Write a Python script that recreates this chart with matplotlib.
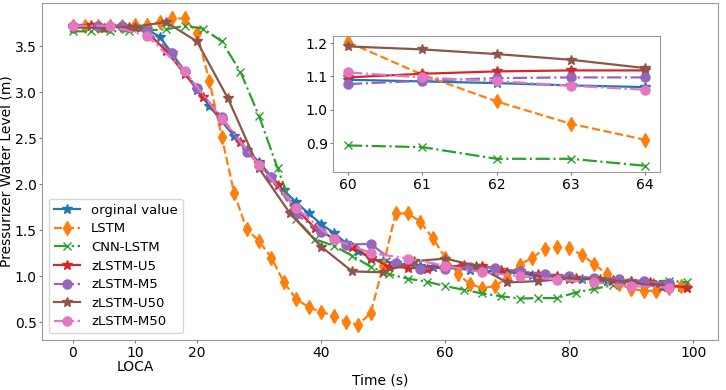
import matplotlib
matplotlib.use("Agg")
import matplotlib.pyplot as plt

# --- data ---
t_orig = list(range(0, 100, 2))
orig = [3.72, 3.72, 3.72, 3.72, 3.72, 3.71, 3.68, 3.60, 3.42, 3.22,
        3.02, 2.85, 2.68, 2.52, 2.37, 2.24, 2.08, 1.93, 1.80, 1.68,
        1.565, 1.47, 1.36, 1.27, 1.19, 1.16, 1.14, 1.12, 1.107, 1.095,
        1.09, 1.08, 1.068, 1.06, 1.05, 1.04, 1.03, 1.01, 1.0, 0.99,
        0.98, 0.97, 0.96, 0.95, 0.94, 0.93, 0.91, 0.90, 0.89, 0.88]

t_lstm = list(range(0, 100, 2))
lstm = [3.72, 3.72, 3.72, 3.72, 3.72, 3.73, 3.73, 3.76, 3.80, 3.80,
        3.64, 3.12, 2.51, 1.90, 1.51, 1.38, 1.20, 0.93, 0.75, 0.66,
        0.61, 0.57, 0.50, 0.47, 0.60, 1.11, 1.68, 1.68, 1.59, 1.41,
        1.20, 1.025, 0.91, 0.87, 0.89, 0.98, 1.12, 1.20, 1.29, 1.32,
        1.30, 1.23, 1.13, 1.02, 0.91, 0.86, 0.84, 0.84, 0.87, 0.89]

t_cnn = list(range(0, 100, 3))
cnn = [3.66, 3.66, 3.66, 3.66, 3.67, 3.68, 3.72, 3.69, 3.55, 3.22,
       2.74, 2.17, 1.62, 1.40, 1.33, 1.22, 1.10, 1.02, 0.97, 0.94,
       0.89, 0.85, 0.81, 0.78, 0.755, 0.76, 0.76, 0.82, 0.86, 0.90,
       0.92, 0.94, 0.95, 0.93]

t_u5 = list(range(0, 100, 3))
u5 = [3.72, 3.73, 3.72, 3.71, 3.65, 3.45, 3.20, 2.95, 2.70, 2.46,
      2.22, 1.99, 1.73, 1.52, 1.41, 1.32, 1.20, 1.10, 1.09, 1.08,
      1.097, 1.117, 1.11, 1.07, 1.05, 1.02, 1.0, 0.98, 0.97, 0.96,
      0.945, 0.93, 0.90, 0.875]

t_m5 = list(range(0, 100, 4))
m5 = [3.72, 3.72, 3.72, 3.66, 3.42, 3.04, 2.73, 2.35, 2.08, 1.67,
      1.48, 1.34, 1.35, 1.14, 1.08, 1.08, 1.10, 1.09, 1.05, 1.02,
      1.0, 0.98, 0.97, 0.945, 0.92]

t_u50 = list(range(0, 100, 5))
u50 = [3.70, 3.70, 3.71, 3.76, 3.55, 2.93, 2.17, 1.68, 1.32, 1.05,
       1.04, 1.16, 1.19, 1.11, 0.93, 0.945, 0.97, 0.97, 0.93, 0.88]

t_m50 = list(range(0, 100, 6))
m50 = [3.72, 3.72, 3.61, 3.23, 2.71, 2.21, 1.74, 1.40, 1.25, 1.19,
       1.11, 1.04, 1.0, 0.96, 0.93, 0.89, 0.875]

# zoomed window 60-64 s
t_zoom = [60, 61, 62, 63, 64]
z_orig = [1.09, 1.085, 1.08, 1.073, 1.068]
z_lstm = [1.203, 1.105, 1.025, 0.958, 0.91]
z_cnn = [0.893, 0.888, 0.853, 0.853, 0.832]
z_u5 = [1.097, 1.108, 1.115, 1.118, 1.118]
z_m5 = [1.077, 1.087, 1.095, 1.097, 1.097]
z_u50 = [1.19, 1.181, 1.167, 1.15, 1.125]
z_m50 = [1.112, 1.097, 1.086, 1.072, 1.06]

labels = ["orginal value", "LSTM", "CNN-LSTM", "zLSTM-U5",
          "zLSTM-M5", "zLSTM-U50", "zLSTM-M50"]
styles = [dict(color="tab:blue", ls="-", marker="*", ms=7),
          dict(color="tab:orange", ls="--", marker="d", ms=7),
          dict(color="tab:green", ls="-.", marker="x", ms=6, mew=1.0),
          dict(color="tab:red", ls="-", marker="*", ms=7),
          dict(color="tab:purple", ls="-.", marker="o", ms=6.5),
          dict(color="tab:brown", ls="-", marker="*", ms=7),
          dict(color="tab:pink", ls="-.", marker="o", ms=6.5)]

main_series = [(t_orig, orig), (t_lstm, lstm), (t_cnn, cnn), (t_u5, u5),
               (t_m5, m5), (t_u50, u50), (t_m50, m50)]
zoom_series = [z_orig, z_lstm, z_cnn, z_u5, z_m5, z_u50, z_m50]

fig = plt.figure(figsize=(7.26, 3.90), dpi=100)
ax = fig.add_axes([0.058, 0.128, 0.931, 0.864])

for (tt, vv), lab, st in zip(main_series, labels, styles):
    ax.plot(tt, vv, label=lab, lw=1.6, **st)

ax.set_xticks([0, 10, 20, 40, 60, 80, 100])
ax.set_xticklabels(["0", "10\nLOCA", "20", "40", "60", "80", "100"],
                   linespacing=1.0)
ax.set_xlabel("Time (s)", fontsize=10, labelpad=0)
ax.set_ylabel("Pressurizer Water Level (m)", fontsize=10, labelpad=1)
ax.tick_params(labelsize=10, color="gray", length=2.5, pad=1.5)
for s in ax.spines.values():
    s.set_color("#999999")
ax.legend(loc="lower left", fontsize=9.5, handlelength=2.0,
          borderpad=0.4, labelspacing=0.42)

# inset
axin = fig.add_axes([0.459, 0.559, 0.450, 0.349])
for vv, st in zip(zoom_series, styles):
    axin.plot(t_zoom, vv, lw=1.6, **st)
axin.set_xticks(t_zoom)
axin.set_yticks([0.9, 1.0, 1.1, 1.2])
axin.tick_params(labelsize=10, color="gray", length=2.5, pad=1.5)
for s in axin.spines.values():
    s.set_color("#999999")

fig.savefig("out.png", dpi=100)
